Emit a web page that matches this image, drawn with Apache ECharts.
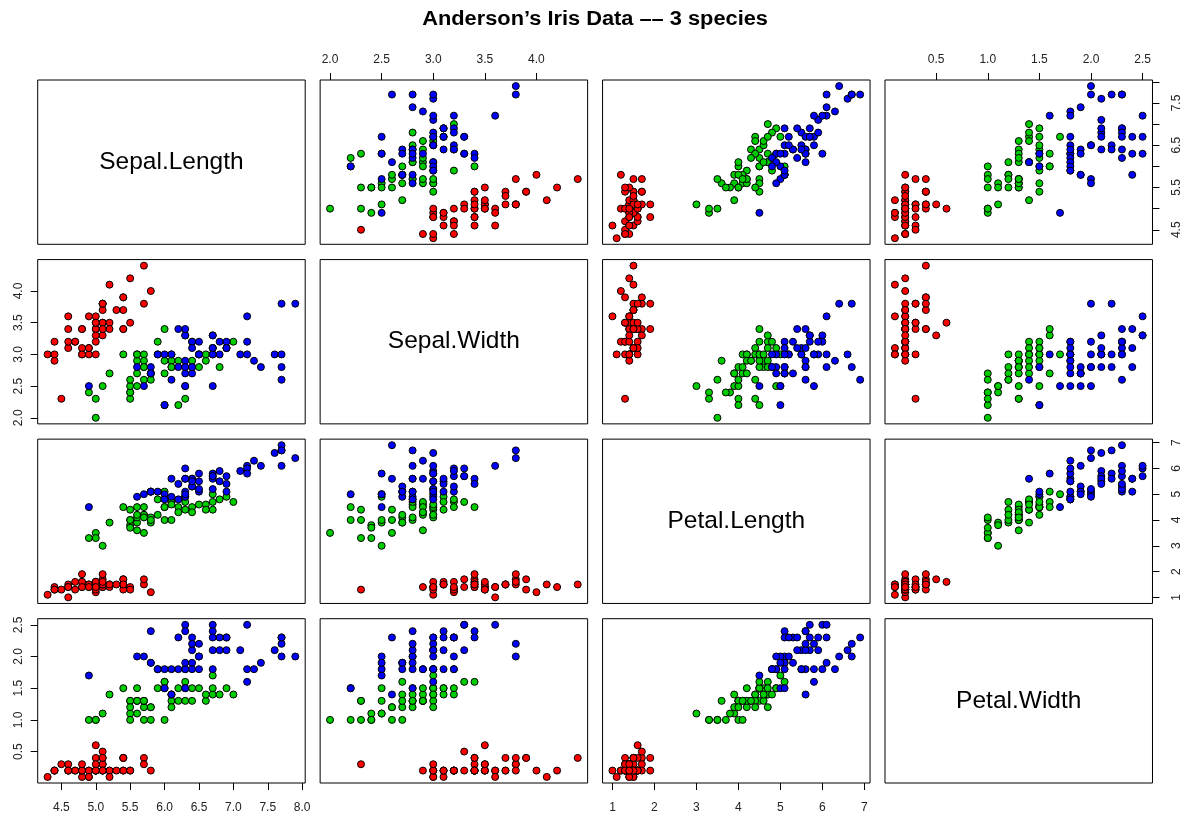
<!DOCTYPE html>
<html>
<head>
<meta charset="utf-8">
<script src="https://cdn.jsdelivr.net/npm/echarts@6/dist/echarts.min.js"></script>
<style>
html,body{margin:0;padding:0;background:#fff;}
#chart{width:1196px;height:816px;}
</style>
</head>
<body>
<div id="chart"></div>
<script>
// ---- Data (Anderson's iris, 3 species x 50) ----
const variableNames = ["Sepal.Length", "Sepal.Width", "Petal.Length", "Petal.Width"];
const speciesNames = ["setosa", "versicolor", "virginica"];
const speciesColors = ["#FF0000", "#00CD00", "#0000FF"];

const setosaSepalLength = [5.1,4.9,4.7,4.6,5.0,5.4,4.6,5.0,4.4,4.9,5.4,4.8,4.8,4.3,5.8,5.7,5.4,5.1,5.7,5.1,5.4,5.1,4.6,5.1,4.8,5.0,5.0,5.2,5.2,4.7,4.8,5.4,5.2,5.5,4.9,5.0,5.5,4.9,4.4,5.1,5.0,4.5,4.4,5.0,5.1,4.8,5.1,4.6,5.3,5.0];
const setosaSepalWidth = [3.5,3.0,3.2,3.1,3.6,3.9,3.4,3.4,2.9,3.1,3.7,3.4,3.0,3.0,4.0,4.4,3.9,3.5,3.8,3.8,3.4,3.7,3.6,3.3,3.4,3.0,3.4,3.5,3.4,3.2,3.1,3.4,4.1,4.2,3.1,3.2,3.5,3.6,3.0,3.4,3.5,2.3,3.2,3.5,3.8,3.0,3.8,3.2,3.7,3.3];
const setosaPetalLength = [1.4,1.4,1.3,1.5,1.4,1.7,1.4,1.5,1.4,1.5,1.5,1.6,1.4,1.1,1.2,1.5,1.3,1.4,1.7,1.5,1.7,1.5,1.0,1.7,1.9,1.6,1.6,1.5,1.4,1.6,1.6,1.5,1.5,1.4,1.5,1.2,1.3,1.4,1.3,1.5,1.3,1.3,1.3,1.6,1.9,1.4,1.6,1.4,1.5,1.4];
const setosaPetalWidth = [0.2,0.2,0.2,0.2,0.2,0.4,0.3,0.2,0.2,0.1,0.2,0.2,0.1,0.1,0.2,0.4,0.4,0.3,0.3,0.3,0.2,0.4,0.2,0.5,0.2,0.2,0.4,0.2,0.2,0.2,0.2,0.4,0.1,0.2,0.2,0.2,0.2,0.1,0.2,0.2,0.3,0.3,0.2,0.6,0.4,0.3,0.2,0.2,0.2,0.2];

const versicolorSepalLength = [7.0,6.4,6.9,5.5,6.5,5.7,6.3,4.9,6.6,5.2,5.0,5.9,6.0,6.1,5.6,6.7,5.6,5.8,6.2,5.6,5.9,6.1,6.3,6.1,6.4,6.6,6.8,6.7,6.0,5.7,5.5,5.5,5.8,6.0,5.4,6.0,6.7,6.3,5.6,5.5,5.5,6.1,5.8,5.0,5.6,5.7,5.7,6.2,5.1,5.7];
const versicolorSepalWidth = [3.2,3.2,3.1,2.3,2.8,2.8,3.3,2.4,2.9,2.7,2.0,3.0,2.2,2.9,2.9,3.1,3.0,2.7,2.2,2.5,3.2,2.8,2.5,2.8,2.9,3.0,2.8,3.0,2.9,2.6,2.4,2.4,2.7,2.7,3.0,3.4,3.1,2.3,3.0,2.5,2.6,3.0,2.6,2.3,2.7,3.0,2.9,2.9,2.5,2.8];
const versicolorPetalLength = [4.7,4.5,4.9,4.0,4.6,4.5,4.7,3.3,4.6,3.9,3.5,4.2,4.0,4.7,3.6,4.4,4.5,4.1,4.5,3.9,4.8,4.0,4.9,4.7,4.3,4.4,4.8,5.0,4.5,3.5,3.8,3.7,3.9,5.1,4.5,4.5,4.7,4.4,4.1,4.0,4.4,4.6,4.0,3.3,4.2,4.2,4.2,4.3,3.0,4.1];
const versicolorPetalWidth = [1.4,1.5,1.5,1.3,1.5,1.3,1.6,1.0,1.3,1.4,1.0,1.5,1.0,1.4,1.3,1.4,1.5,1.0,1.5,1.1,1.8,1.3,1.5,1.2,1.3,1.4,1.4,1.7,1.5,1.0,1.1,1.0,1.2,1.6,1.5,1.6,1.5,1.3,1.3,1.3,1.2,1.4,1.2,1.0,1.3,1.2,1.3,1.3,1.1,1.3];

const virginicaSepalLength = [6.3,5.8,7.1,6.3,6.5,7.6,4.9,7.3,6.7,7.2,6.5,6.4,6.8,5.7,5.8,6.4,6.5,7.7,7.7,6.0,6.9,5.6,7.7,6.3,6.7,7.2,6.2,6.1,6.4,7.2,7.4,7.9,6.4,6.3,6.1,7.7,6.3,6.4,6.0,6.9,6.7,6.9,5.8,6.8,6.7,6.7,6.3,6.5,6.2,5.9];
const virginicaSepalWidth = [3.3,2.7,3.0,2.9,3.0,3.0,2.5,2.9,2.5,3.6,3.2,2.7,3.0,2.5,2.8,3.2,3.0,3.8,2.6,2.2,3.2,2.8,2.8,2.7,3.3,3.2,2.8,3.0,2.8,3.0,2.8,3.8,2.8,2.8,2.6,3.0,3.4,3.1,3.0,3.1,3.1,3.1,2.7,3.2,3.3,3.0,2.5,3.0,3.4,3.0];
const virginicaPetalLength = [6.0,5.1,5.9,5.6,5.8,6.6,4.5,6.3,5.8,6.1,5.1,5.3,5.5,5.0,5.1,5.3,5.5,6.7,6.9,5.0,5.7,4.9,6.7,4.9,5.7,6.0,4.8,4.9,5.6,5.8,6.1,6.4,5.6,5.1,5.6,6.1,5.6,5.5,4.8,5.4,5.6,5.1,5.1,5.9,5.7,5.2,5.0,5.2,5.4,5.1];
const virginicaPetalWidth = [2.5,1.9,2.1,1.8,2.2,2.1,1.7,1.8,1.8,2.5,2.0,1.9,2.1,2.0,2.4,2.3,1.8,2.2,2.3,1.5,2.3,2.0,2.0,1.8,2.1,1.8,1.8,1.8,2.1,1.6,1.9,2.0,2.2,1.5,1.4,2.3,2.4,1.8,1.8,2.1,2.4,2.3,1.9,2.3,2.5,2.3,1.9,2.0,2.3,1.8];

// ---- Tick values / labels ----
const sepalLengthTicks = [4.5,5.0,5.5,6.0,6.5,7.0,7.5,8.0];
const sepalLengthSideLabels = [4.5,5.5,6.5,7.5];
const sepalWidthTicks = [2.0,2.5,3.0,3.5,4.0];
const petalLengthTicks = [1,2,3,4,5,6,7];
const petalWidthTicks = [0.5,1.0,1.5,2.0,2.5];

const titleText = "Anderson\u2019s Iris Data \u2013\u2013 3 species";

// ---- Assembly ----
const bySpecies = [
  [setosaSepalLength, setosaSepalWidth, setosaPetalLength, setosaPetalWidth],
  [versicolorSepalLength, versicolorSepalWidth, versicolorPetalLength, versicolorPetalWidth],
  [virginicaSepalLength, virginicaSepalWidth, virginicaPetalLength, virginicaPetalWidth]
];
const ticksByVar = [sepalLengthTicks, sepalWidthTicks, petalLengthTicks, petalWidthTicks];
const sideLabelsByVar = [sepalLengthSideLabels, sepalWidthTicks, petalLengthTicks, petalWidthTicks];
const decimalsByVar = [1, 1, 0, 1];

// R-style range: extend data range by 4% on each side
const ranges = variableNames.map((_, v) => {
  const all = bySpecies.flatMap(s => s[v]);
  const lo = Math.min(...all), hi = Math.max(...all);
  const d = (hi - lo) * 0.04;
  return [lo - d, hi + d];
});

const FONT = "'Liberation Sans', Arial, Helvetica, sans-serif";
const L0 = 37.7, T0 = 80, PW = 267.5, PH = 164.3, DX = 282.43, DY = 179.57;

const grids = [], xAxes = [], yAxes = [], series = [];

for (let r = 0; r < 4; r++) {
  for (let c = 0; c < 4; c++) {
    const k = r * 4 + c;
    const left = L0 + c * DX, top = T0 + r * DY;
    grids.push({
      left: left, top: top, width: PW, height: PH,
      show: true, borderColor: '#000', borderWidth: 1, backgroundColor: 'transparent',
      containLabel: false
    });

    // x axis
    let xPos = null;
    if (r === 0 && (c === 1 || c === 3)) xPos = 'top';
    if (r === 3 && (c === 0 || c === 2)) xPos = 'bottom';
    const xDec = decimalsByVar[c];
    xAxes.push({
      gridIndex: k, type: 'value', min: ranges[c][0], max: ranges[c][1],
      position: xPos || 'bottom',
      axisLine: { show: false },
      splitLine: { show: false },
      axisTick: { show: !!xPos, length: 7, inside: false, lineStyle: { color: '#000', width: 1 }, customValues: ticksByVar[c] },
      axisLabel: { show: !!xPos, customValues: ticksByVar[c], margin: xPos === 'top' ? 14 : 19, fontSize: 12, fontFamily: FONT, color: '#222',
                   formatter: v => Number(v).toFixed(xDec) }
    });

    // y axis
    let yPos = null;
    if (c === 0 && (r === 1 || r === 3)) yPos = 'left';
    if (c === 3 && (r === 0 || r === 2)) yPos = 'right';
    const yDec = decimalsByVar[r];
    yAxes.push({
      gridIndex: k, type: 'value', min: ranges[r][0], max: ranges[r][1],
      position: yPos || 'left',
      axisLine: { show: false },
      splitLine: { show: false },
      axisTick: { show: !!yPos, length: 7, inside: false, lineStyle: { color: '#000', width: 1 }, customValues: ticksByVar[r] },
      axisLabel: { show: !!yPos, customValues: sideLabelsByVar[r], rotate: 90, margin: yPos === 'left' ? 13 : 18, fontSize: 12, fontFamily: FONT, color: '#222',
                   formatter: v => Number(v).toFixed(yDec) }
    });

    if (r !== c) {
      for (let s = 0; s < 3; s++) {
        const xs = bySpecies[s][c], ys = bySpecies[s][r];
        series.push({
          type: 'scatter', name: speciesNames[s], xAxisIndex: k, yAxisIndex: k,
          data: xs.map((x, i) => [x, ys[i]]),
          symbol: 'circle', symbolSize: 7,
          itemStyle: { color: speciesColors[s], borderColor: '#000', borderWidth: 1, opacity: 1 },
          emphasis: { disabled: true },
          silent: true
        });
      }
    }
  }
}

const graphics = [{
  type: 'text', x: L0 + (3 * DX + PW) / 2, y: 19, scaleX: 1.09,
  style: { text: titleText, font: 'bold 20px ' + FONT, fill: '#000', align: 'center', verticalAlign: 'middle' }
}].concat(variableNames.map((name, i) => ({
  type: 'text',
  x: L0 + i * DX + PW / 2,
  y: T0 + i * DY + PH / 2,
  style: { text: name, font: '24.5px ' + FONT, fill: '#000', align: 'center', verticalAlign: 'middle' }
})));

const chart = echarts.init(document.getElementById('chart'), null, { renderer: 'canvas' });
chart.setOption({
  animation: false,
  backgroundColor: '#fff',
  grid: grids,
  xAxis: xAxes,
  yAxis: yAxes,
  series: series,
  graphic: graphics
});
</script>
</body>
</html>
